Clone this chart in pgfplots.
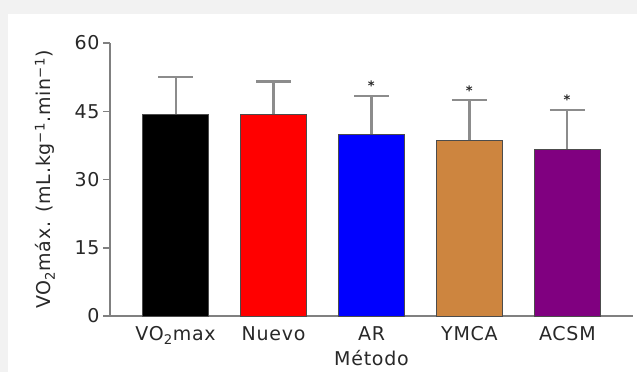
\documentclass[border=0pt]{standalone}
\usepackage{fontspec}
\setmainfont{DejaVu Sans}[LetterSpace=4]
\usepackage{pgfplots}
\pgfplotsset{compat=1.18}
\definecolor{bggray}{RGB}{242,242,242}
\definecolor{axgray}{RGB}{128,128,128}
\definecolor{errgray}{RGB}{140,140,140}
\definecolor{peru}{RGB}{205,133,63}
\definecolor{purp}{RGB}{128,0,128}
\definecolor{txt}{RGB}{40,40,40}
\pgfplotsset{
  mybar/.style={ybar, bar shift=0pt, bar width=0.67, draw=black!70, line width=0.8pt,
    error bars/y dir=plus, error bars/y explicit,
    error bars/error bar style={draw=errgray, line width=2.2pt},
    error bars/error mark options={draw=errgray, line width=2.6pt, rotate=90, mark size=17.5pt}},
}
\begin{document}
\begin{tikzpicture}[x=1pt,y=1pt,font=\fontsize{19}{22}\selectfont]
\fill[bggray] (0,0) rectangle (637,372);
\fill[white] (8,0) rectangle (637,357.5);
\begin{axis}[
 at={(110pt,56pt)}, anchor=south west,
 scale only axis, width=523pt, height=273pt,
 xmin=-0.67, xmax=4.67, ymin=0, ymax=60,
 axis x line=bottom, axis y line=left,
 axis line style={axgray, line width=1.5pt, -},
 ytick={0,15,30,45,60},
 xtick={0,1,2,3,4},
 xticklabels={VO\textsubscript{2}max, Nuevo, AR, YMCA, ACSM},
 x tick style={draw=none},
 y tick style={axgray, line width=1.5pt},
 tick align=outside, major tick length=7pt,
 /pgf/number format/assume math mode=true,
 tick label style={text=txt},
 label style={text=txt},
 xlabel={Método},
 ylabel={VO\textsubscript{2}máx. (mL.kg\textsuperscript{−1}.min\textsuperscript{−1})},
 xlabel style={at={(axis description cs:0.5,-0.154)}, anchor=center},
 ylabel style={at={(axis description cs:-0.1245,0.5)}, anchor=center},
 clip=false,
]
\addplot[mybar, fill=black] coordinates {(0,44.4) +- (0,8.1)};
\addplot[mybar, fill=red] coordinates {(1,44.4) +- (0,7.1)};
\addplot[mybar, fill=blue] coordinates {(2,39.9) +- (0,8.45)};
\addplot[mybar, fill=peru] coordinates {(3,38.6) +- (0,8.9)};
\addplot[mybar, fill=purp] coordinates {(4,36.6) +- (0,8.7)};
\addplot[draw=none, mark=none, nodes near coords={\textbf{*}}, nodes near coords align={center},
  every node near coord/.append style={font=\fontsize{13}{13}\selectfont, text=txt}]
  coordinates {(2,50.6) (3,49.5) (4,47.5)};
\end{axis}
\end{tikzpicture}
\end{document}
